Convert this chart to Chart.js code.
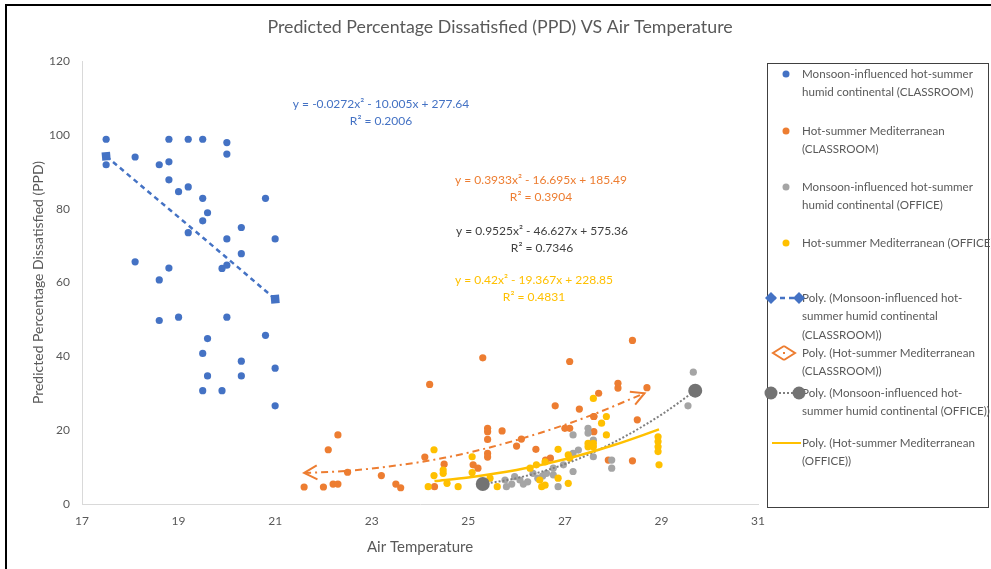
<!DOCTYPE html>
<html>
<head>
<meta charset="utf-8">
<script src="https://cdn.jsdelivr.net/npm/chart.js@4.4.0/dist/chart.umd.min.js"></script>
<style>
  html, body { margin: 0; padding: 0; background: #fff; }
  #wrap { width: 991px; height: 569px; }
</style>
</head>
<body>
<div id="wrap"><canvas id="myChart" width="991" height="569"></canvas></div>
<script>
var chartTitle = 'Predicted Percentage Dissatisfied (PPD) VS Air Temperature';
var xTitle = 'Air Temperature';
var yTitle = 'Predicted Percentage Dissatisfied (PPD)';
var xTicks = [17, 19, 21, 23, 25, 27, 29, 31];
var yTicks = [0, 20, 40, 60, 80, 100, 120];

// Monsoon-influenced hot-summer humid continental (CLASSROOM)
var monClassX = [17.5, 17.5, 18.1, 18.8, 19.2, 19.5, 20.0, 20.0, 18.6, 18.8, 18.8, 19.0, 19.2, 19.5, 20.8, 19.6, 19.5, 19.2, 20.3, 20.0,
                 21.0, 20.3, 18.1, 18.8, 19.9, 20.0, 18.6, 18.6, 19.0, 20.0, 20.8, 19.6, 19.5, 20.3, 21.0, 19.6, 20.3, 19.5, 19.9, 21.0];
var monClassY = [98.8, 91.9, 94.0, 98.8, 98.8, 98.8, 97.9, 94.8, 91.9, 92.7, 87.8, 84.6, 85.9, 82.8, 82.8, 78.9, 76.7, 73.5, 74.9, 71.8,
                 71.8, 67.8, 65.6, 63.9, 63.8, 64.7, 60.7, 49.7, 50.6, 50.6, 45.7, 44.8, 40.8, 38.7, 36.8, 34.7, 34.7, 30.7, 30.7, 26.6];

// Hot-summer Mediterranean (CLASSROOM)
var medClassX = [21.6, 22.0, 22.2, 22.3, 22.1, 22.3, 22.5, 23.2, 23.5, 23.6, 24.1, 24.2, 24.3, 24.5, 25.1, 25.2, 25.3, 25.4, 25.4, 25.4,
                 25.4, 25.4, 25.7, 26.0, 26.1, 26.4, 26.6, 26.7, 26.8, 27.0, 27.1, 27.1, 27.3, 27.6, 27.6, 27.6, 27.7, 27.9, 28.1, 28.1,
                 28.4, 28.4, 28.5, 28.7];
var medClassY = [4.6, 4.6, 5.4, 5.4, 14.7, 18.7, 8.6, 7.7, 5.4, 4.4, 12.7, 32.4, 4.7, 10.8, 10.6, 9.7, 39.6, 20.5, 19.6, 17.5,
                 13.7, 12.7, 19.8, 15.7, 17.6, 14.8, 11.9, 12.4, 26.6, 20.5, 20.5, 38.6, 25.7, 19.6, 23.7, 23.7, 30.0, 11.9, 32.7, 31.4,
                 44.3, 11.7, 22.8, 31.5];

// Monsoon-influenced hot-summer humid continental (OFFICE)
var monOffX = [25.76, 25.79, 25.96, 26.07, 26.14, 26.34, 26.44, 26.54, 26.62, 26.76, 26.76, 26.86, 26.97, 27.17, 27.17, 27.17, 27.28,
               27.48, 27.48, 27.59, 27.59, 27.97, 27.97, 29.55, 29.66, 26.23, 25.9];
var monOffY = [6.5, 4.7, 7.4, 6.5, 5.4, 8.3, 7.0, 7.6, 8.3, 7.9, 9.7, 4.7, 10.6, 8.8, 13.7, 18.7, 14.6,
               20.5, 19.2, 17.3, 12.8, 11.9, 9.7, 26.6, 35.7, 6.0, 5.4];

// Hot-summer Mediterranean (OFFICE)
var medOffX = [24.17, 24.29, 24.29, 24.48, 24.48, 24.56, 24.79, 25.08, 25.08, 25.45, 25.6, 26.28, 26.41, 26.52, 26.48, 26.59, 26.59,
               26.86, 26.86, 27.07, 27.1, 27.07, 27.48, 27.48, 27.59, 27.59, 27.59, 27.76, 27.86, 27.86, 28.93, 28.93, 28.93, 28.93, 28.95];
var medOffY = [4.7, 14.7, 7.7, 9.2, 8.3, 5.6, 4.7, 12.8, 8.5, 7.0, 4.7, 9.7, 10.6, 4.7, 6.5, 11.4, 5.1,
               14.8, 7.0, 13.3, 12.4, 5.6, 16.4, 15.5, 16.4, 15.5, 28.6, 21.9, 23.7, 18.7, 18.2, 16.9, 15.5, 14.2, 10.6];

// trendline points
var polyMonClassX = [17.5, 18.5, 19.5, 20.5, 21.0];
var polyMonClassY = [94.2, 83.2, 72.2, 61.1, 55.5];
var polyMedClassX = [21.6, 22.5, 23.5, 24.5, 25.5, 26.5, 27.5, 28.65];
var polyMedClassY = [8.4, 9.0, 10.4, 12.5, 15.5, 19.3, 23.8, 30.0];
var polyMonOffX = [25.3, 26.0, 27.0, 28.0, 29.0, 29.7];
var polyMonOffY = [5.4, 7.0, 10.8, 16.6, 24.2, 30.7];
var polyMedOffX = [24.3, 25.0, 26.0, 27.0, 28.0, 28.95];
var polyMedOffY = [6.2, 7.2, 9.2, 12.1, 15.9, 20.2];

var equations = ['y = -0.0272x\u00B2 - 10.005x + 277.64', 'y = 0.3933x\u00B2 - 16.695x + 185.49',
                 'y = 0.9525x\u00B2 - 46.627x + 575.36', 'y = 0.42x\u00B2 - 19.367x + 228.85'];
var rSquared = ['R\u00B2 = 0.2006', 'R\u00B2 = 0.3904', 'R\u00B2 = 0.7346', 'R\u00B2 = 0.4831'];

var legendLines = [
  ['Monsoon-influenced hot-summer', 'humid continental (CLASSROOM)'],
  ['Hot-summer Mediterranean', '(CLASSROOM)'],
  ['Monsoon-influenced hot-summer', 'humid continental (OFFICE)'],
  ['Hot-summer Mediterranean (OFFICE)'],
  ['Poly. (Monsoon-influenced hot-', 'summer humid continental', '(CLASSROOM))'],
  ['Poly. (Hot-summer Mediterranean', '(CLASSROOM))'],
  ['Poly. (Monsoon-influenced hot-', 'summer humid continental (OFFICE))'],
  ['Poly. (Hot-summer Mediterranean', '(OFFICE))']
];

var blue = '#4472C4', orange = '#ED7D31', grey = '#A5A5A5', yellow = '#FFC000', darkGrey = '#7F7F7F';
var textGrey = '#595959';

function pts(xs, ys) {
  return xs.map(function (x, i) { return { x: x, y: ys[i] }; });
}
function endsOnly(r) {
  return function (c) {
    var n = c.dataset.data.length;
    return (c.dataIndex === 0 || c.dataIndex === n - 1) ? r : 0;
  };
}

function chevron(ctx, tip, from, len, half) {
  var a = Math.atan2(tip.y - from.y, tip.x - from.x);
  var bx = tip.x - len * Math.cos(a), by = tip.y - len * Math.sin(a);
  ctx.beginPath();
  ctx.moveTo(bx + half * Math.sin(a), by - half * Math.cos(a));
  ctx.lineTo(tip.x, tip.y);
  ctx.lineTo(bx - half * Math.sin(a), by + half * Math.cos(a));
  ctx.stroke();
}

var decor = {
  id: 'decor',
  afterDatasetsDraw: function (chart) {
    // open arrow heads on the Mediterranean classroom trendline
    var ctx = chart.ctx;
    var el = chart.getDatasetMeta(5).data;
    ctx.save();
    ctx.strokeStyle = orange;
    ctx.lineWidth = 2;
    chevron(ctx, el[0], el[1], 13, 7);
    chevron(ctx, el[el.length - 1], el[el.length - 2], 13, 7);
    ctx.restore();
  },
  afterDraw: function (chart) {
    var ctx = chart.ctx;
    ctx.save();
    // title
    ctx.fillStyle = textGrey;
    ctx.font = '17.8px Lato';
    ctx.textAlign = 'center';
    ctx.textBaseline = 'middle';
    ctx.fillText(chartTitle, 500, 27);

    // trendline equations
    var eqColors = [blue, orange, '#404040', yellow];
    var eqPos = [[381, 104], [541, 180], [542, 231], [534, 280]];
    ctx.font = '12px Lato';
    for (var i = 0; i < equations.length; i++) {
      ctx.fillStyle = eqColors[i];
      ctx.fillText(equations[i], eqPos[i][0], eqPos[i][1]);
      ctx.fillText(rSquared[i], eqPos[i][0], eqPos[i][1] + 17);
    }

    // legend box
    ctx.strokeStyle = '#404040';
    ctx.lineWidth = 1;
    ctx.strokeRect(767.5, 63.5, 221, 444);
    var itemY = [74, 131, 187, 243, 298, 353, 393, 443];
    ctx.font = '11.6px Lato';
    ctx.textAlign = 'left';
    ctx.fillStyle = textGrey;
    for (var k = 0; k < legendLines.length; k++) {
      for (var j = 0; j < legendLines[k].length; j++) {
        ctx.fillText(legendLines[k][j], 802, itemY[k] + j * 18.5);
      }
    }
    var dotCols = [blue, orange, grey, yellow];
    for (var d = 0; d < 4; d++) {
      ctx.fillStyle = dotCols[d];
      ctx.beginPath();
      ctx.arc(786, itemY[d], 3.5, 0, Math.PI * 2);
      ctx.fill();
    }
    // blue dashed with diamonds
    var y5 = itemY[4];
    ctx.strokeStyle = blue; ctx.lineWidth = 2.5;
    ctx.setLineDash([5, 4]);
    ctx.beginPath(); ctx.moveTo(771, y5); ctx.lineTo(799, y5); ctx.stroke();
    ctx.setLineDash([]);
    ctx.fillStyle = blue;
    [771, 799].forEach(function (x) {
      ctx.beginPath();
      ctx.moveTo(x, y5 - 6); ctx.lineTo(x + 6, y5); ctx.lineTo(x, y5 + 6); ctx.lineTo(x - 6, y5);
      ctx.closePath(); ctx.fill();
    });
    // orange dash-dot with open arrows
    var y6 = itemY[5];
    ctx.strokeStyle = orange; ctx.lineWidth = 2;
    chevron(ctx, { x: 773, y: y6 }, { x: 790, y: y6 }, 11, 7);
    chevron(ctx, { x: 795, y: y6 }, { x: 778, y: y6 }, 11, 7);
    ctx.fillStyle = orange;
    ctx.fillRect(783, y6 - 1, 2, 2);
    // grey dotted with circles
    var y7 = itemY[6];
    ctx.strokeStyle = darkGrey; ctx.lineWidth = 2;
    ctx.setLineDash([2, 2]);
    ctx.beginPath(); ctx.moveTo(771, y7); ctx.lineTo(799, y7); ctx.stroke();
    ctx.setLineDash([]);
    ctx.fillStyle = '#737373';
    [771, 799].forEach(function (x) {
      ctx.beginPath(); ctx.arc(x, y7, 6.5, 0, Math.PI * 2); ctx.fill();
    });
    // yellow solid
    var y8 = itemY[7];
    ctx.strokeStyle = yellow; ctx.lineWidth = 2;
    ctx.beginPath(); ctx.moveTo(772, y8); ctx.lineTo(801, y8); ctx.stroke();

    // outer frame
    ctx.strokeStyle = '#000';
    ctx.lineWidth = 2;
    ctx.beginPath(); ctx.moveTo(6, 569); ctx.lineTo(6, 5); ctx.lineTo(991, 5); ctx.stroke();
    ctx.restore();
  }
};

Chart.defaults.font.family = 'Lato';
Chart.defaults.color = textGrey;

var ctx1 = document.getElementById('myChart').getContext('2d');
var mychart1 = new Chart(ctx1, {
  type: 'scatter',
  data: {
    datasets: [
      { label: legendLines[0].join(' '), data: pts(monClassX, monClassY), backgroundColor: blue, borderWidth: 0, pointRadius: 3.6, order: 8 },
      { label: legendLines[1].join(' '), data: pts(medClassX, medClassY), backgroundColor: orange, borderWidth: 0, pointRadius: 3.6, order: 7 },
      { label: legendLines[2].join(' '), data: pts(monOffX, monOffY), backgroundColor: grey, borderWidth: 0, pointRadius: 3.6, order: 6 },
      { label: legendLines[3].join(' '), data: pts(medOffX, medOffY), backgroundColor: yellow, borderWidth: 0, pointRadius: 3.6, order: 5 },
      { label: legendLines[4].join(' '), data: pts(polyMonClassX, polyMonClassY), showLine: true, cubicInterpolationMode: 'monotone',
        borderColor: blue, borderWidth: 2.5, borderDash: [5, 4], backgroundColor: blue,
        pointStyle: 'rect', rotation: -5, pointRadius: endsOnly(6), pointBorderWidth: 0, order: 4 },
      { label: legendLines[5].join(' '), data: pts(polyMedClassX, polyMedClassY), showLine: true, cubicInterpolationMode: 'monotone',
        borderColor: orange, borderWidth: 2, borderDash: [7, 4, 2, 4], pointRadius: 0, order: 3 },
      { label: legendLines[6].join(' '), data: pts(polyMonOffX, polyMonOffY), showLine: true, cubicInterpolationMode: 'monotone',
        borderColor: darkGrey, borderWidth: 2, borderDash: [2, 2], backgroundColor: '#737373',
        pointRadius: endsOnly(7), pointBorderWidth: 0, order: 2 },
      { label: legendLines[7].join(' '), data: pts(polyMedOffX, polyMedOffY), showLine: true, cubicInterpolationMode: 'monotone',
        borderColor: yellow, borderWidth: 2.5, pointRadius: 0, order: 1 }
    ]
  },
  options: {
    responsive: false,
    animation: false,
    devicePixelRatio: 1,
    layout: { padding: { left: 10, right: 233, top: 61, bottom: 5 } },
    plugins: {
      legend: { display: false },
      title: { display: false },
      tooltip: { enabled: false }
    },
    scales: {
      x: {
        type: 'linear', min: xTicks[0], max: xTicks[xTicks.length - 1],
        afterFit: function (s) { s.height = 60; },
        afterBuildTicks: function (s) { s.ticks = xTicks.map(function (v) { return { value: v }; }); },
        ticks: { color: textGrey, font: { size: 12 }, padding: 10 },
        grid: { display: false, drawTicks: false },
        border: { display: true, color: '#D9D9D9', width: 1 },
        title: { display: true, text: xTitle, color: textGrey, font: { size: 15 }, padding: { top: 0, bottom: 8 } }
      },
      y: {
        min: yTicks[0], max: yTicks[yTicks.length - 1],
        afterFit: function (s) { s.width = 72; },
        afterBuildTicks: function (s) { s.ticks = yTicks.map(function (v) { return { value: v }; }); },
        ticks: { color: textGrey, font: { size: 12 }, padding: 12 },
        grid: { display: false, drawTicks: false },
        border: { display: true, color: '#D9D9D9', width: 1 },
        title: { display: true, text: yTitle, color: textGrey, font: { size: 14 }, padding: { top: 20, bottom: 0 } }
      }
    }
  },
  plugins: [decor]
});
</script>
</body>
</html>
